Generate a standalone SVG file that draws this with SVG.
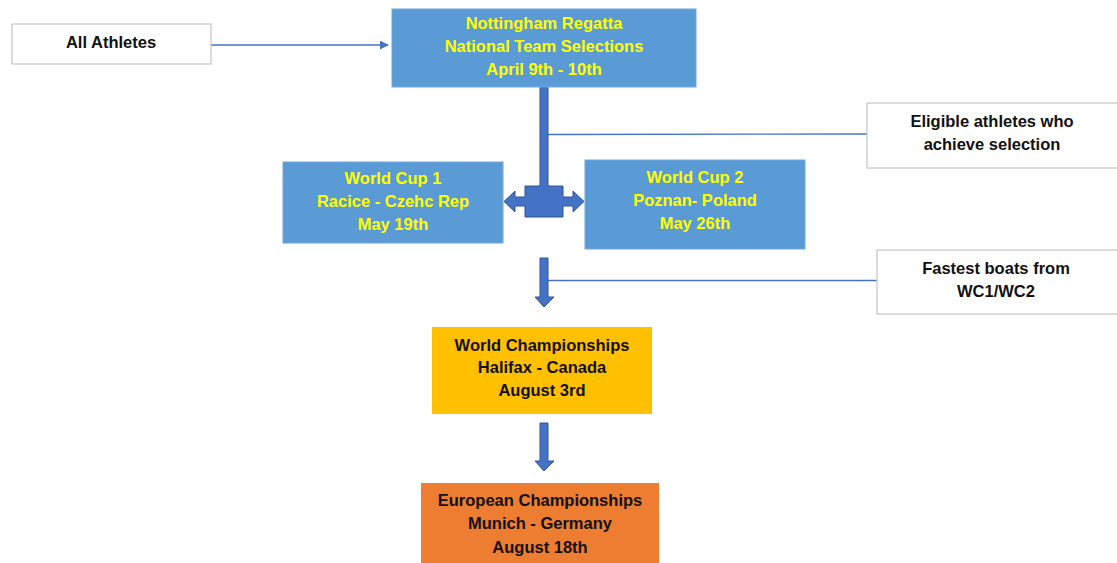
<svg xmlns="http://www.w3.org/2000/svg" width="1117" height="563" viewBox="0 0 1117 563">
<defs>
<marker id="ah" viewBox="0 0 10 10" refX="9" refY="5" markerWidth="9" markerHeight="9" markerUnits="userSpaceOnUse" orient="auto"><path d="M0,0 L10,5 L0,10 z" fill="#4472c4"/></marker>
</defs>
<style>
text{font-family:"Liberation Sans",Arial,sans-serif;font-weight:bold;font-size:16.5px;text-anchor:middle}
.y{fill:#ffff00}
.k{fill:#111}
.wb{fill:#fff;stroke:#c4c4c4;stroke-width:1.2}
.bb{fill:#5b9bd5;stroke:#6fa8dc;stroke-width:1}
.thin{stroke:#4472c4;stroke-width:1.3;fill:none}
.thick{fill:#4472c4;stroke:#2f5597;stroke-width:1}
</style>
<rect width="1117" height="563" fill="#fff"/>
<g id="connectors">
<line class="thin" x1="211" y1="45" x2="388" y2="45" marker-end="url(#ah)"/>
<line class="thin" x1="548" y1="134.5" x2="867" y2="134"/>
<line class="thin" x1="548" y1="280.5" x2="877" y2="280.5"/>
<polygon class="thick" points="540,87 540,186 525,186 525,197 515,197 515,191 504,201.5 515,212 515,206 525,206 525,217 563,217 563,206 573,206 573,212 584,201.5 573,191 573,197 563,197 563,186 548,186 548,87"/>
<polygon class="thick" points="540,258 548,258 548,297 554,297 544,307 535,297 540,297"/>
<polygon class="thick" points="540,423 548,423 548,461 554,461 544,471 535,461 540,461"/>
</g>
<g id="all-athletes">
<rect class="wb" x="12" y="24" width="199" height="40"/>
<text class="k" x="111" y="48">All Athletes</text>
</g>
<g id="nottingham">
<rect class="bb" x="392" y="9" width="304" height="78"/>
<text class="y" x="544" y="28.5">Nottingham Regatta</text>
<text class="y" x="544" y="52">National Team Selections</text>
<text class="y" x="544" y="75">April 9th - 10th</text>
</g>
<g id="eligible">
<rect class="wb" x="867" y="103" width="252" height="65"/>
<text class="k" x="992" y="127">Eligible athletes who</text>
<text class="k" x="992" y="150">achieve selection</text>
</g>
<g id="wc1">
<rect class="bb" x="283" y="162" width="220" height="81"/>
<text class="y" x="393" y="184">World Cup 1</text>
<text class="y" x="393" y="207">Racice - Czehc Rep</text>
<text class="y" x="393" y="230">May 19th</text>
</g>
<g id="wc2">
<rect class="bb" x="585" y="160" width="220" height="89"/>
<text class="y" x="695" y="183">World Cup 2</text>
<text class="y" x="695" y="206">Poznan- Poland</text>
<text class="y" x="695" y="229">May 26th</text>
</g>
<g id="fastest">
<rect class="wb" x="877" y="250" width="242" height="64"/>
<text class="k" x="996" y="274">Fastest boats from</text>
<text class="k" x="996" y="297">WC1/WC2</text>
</g>
<g id="world-championships">
<rect x="432" y="327" width="220" height="87" fill="#ffc000"/>
<text class="k" x="542" y="351">World Championships</text>
<text class="k" x="542" y="373">Halifax - Canada</text>
<text class="k" x="542" y="396">August 3rd</text>
</g>
<g id="european-championships">
<rect x="421" y="483" width="238" height="82" fill="#ed7d31"/>
<text class="k" x="540" y="506">European Championships</text>
<text class="k" x="540" y="529">Munich - Germany</text>
<text class="k" x="540" y="553">August 18th</text>
</g>
</svg>
